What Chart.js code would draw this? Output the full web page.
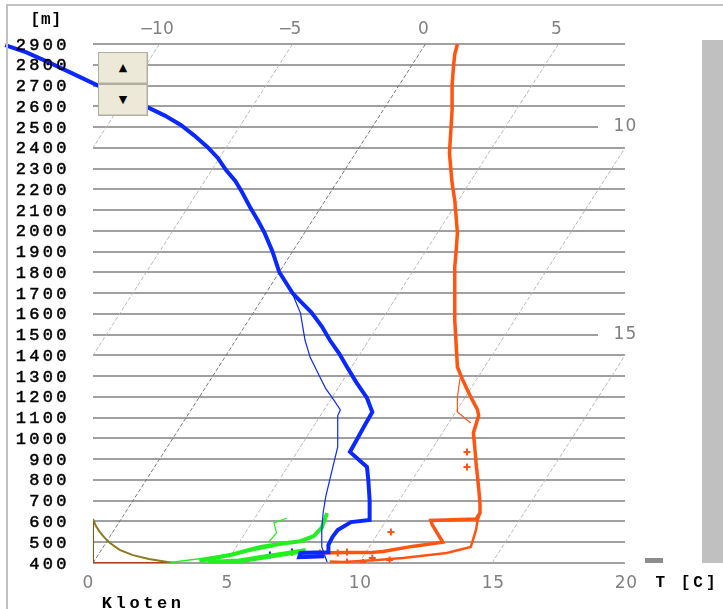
<!DOCTYPE html>
<html>
<head>
<meta charset="utf-8">
<script src="https://cdn.jsdelivr.net/npm/chart.js@4"></script>
<style>
  body { margin: 0; background: #fff; }
  #wrap { position: relative; width: 723px; height: 609px; overflow: hidden; }
  #c { position: absolute; left: 0; top: 0; }
  .frameTop { position: absolute; left: 7px; top: 4px; width: 716px; height: 2px; background: #c0c0c0; }
  .frameLeft { position: absolute; left: 6px; top: 4px; width: 2px; height: 605px; background: #c0c0c0; }
  .bar { position: absolute; left: 702px; top: 40px; width: 21px; height: 523px; background: #c0c0c0; }
  .mark { position: absolute; left: 645px; top: 558px; width: 18px; height: 5px; background: #8c8c8c; }
  .btns { position: absolute; left: 98px; top: 52px; width: 50px; height: 65px; }
  .btn { position: absolute; left: 0; width: 48px; height: 30px; background: #ece9d8;
         border: 1px solid #b0aea0; box-shadow: inset -1px -1px 0 #d0cdbf;
         font: 11px "DejaVu Sans", sans-serif; color: #000; text-align: center; line-height: 30px; }
</style>
</head>
<body>
<div id="wrap">
  <canvas id="c" width="723" height="609"></canvas>
  <div class="frameTop"></div>
  <div class="frameLeft"></div>
  <div class="bar"></div>
  <div class="mark"></div>
  <div class="btns">
    <div class="btn" style="top:0">▲</div>
    <div class="btn" style="top:32px">▼</div>
  </div>
</div>
<script>
// axes
const yTicks = [400, 500, 600, 700, 800, 900, 1000, 1100, 1200, 1300, 1400, 1500, 1600,
  1700, 1800, 1900, 2000, 2100, 2200, 2300, 2400, 2500, 2600, 2700, 2800, 2900];
const xTicks = [0, 5, 10, 15, 20];
const isotherms = [-10, -5, 0, 5, 10, 15, 20];
const topLabels = [-10, -5, 0, 5];
const sideLabels = [10, 15];
const skew = 0.005; // x shift per metre of height

// profiles (x = T, y = height m)
const blueThickT = [-3.3, -2.5, -1.6, -0.8, 0.15, 1.2, 2.1, 2.7, 3.3, 3.8, 4.3, 4.7, 5.0, 5.35, 5.6, 5.9, 6.2,
  6.45, 6.75, 7.0, 7.5, 7.8, 8.2, 8.6, 8.9, 9.25, 9.55, 9.9, 10.3, 10.5, 10.2, 9.9, 9.66, 10.3, 10.35,
  10.4, 10.4, 9.7, 9.2, 9.0, 8.85, 8.85, 8.3, 7.8, 7.75, 8.2, 8.7];
const blueThickH = [2895, 2860, 2808, 2760, 2702, 2645, 2592, 2555, 2510, 2460, 2404, 2350, 2293, 2240, 2187, 2115, 2050,
  1990, 1900, 1802, 1700, 1660, 1609, 1540, 1474, 1410, 1344, 1270, 1195, 1127, 1060, 990, 935, 862, 800,
  700, 607, 597, 559, 525, 487, 452, 450, 448, 428, 430, 432];

const blueThinT = [7.52, 7.65, 7.8, 7.97, 8.16, 8.53, 8.75, 9.0, 9.3, 9.2, 9.2, 9.05, 8.9, 8.75, 8.65, 8.6, 8.6, 8.8];
const blueThinH = [1691, 1650, 1604, 1474, 1392, 1296, 1240, 1195, 1137, 1110, 959, 880, 800, 720, 641, 560, 477, 405];

const orangeThickT = [13.7, 13.6, 13.55, 13.5, 13.5, 13.4, 13.45, 13.5, 13.6, 13.7, 13.65, 13.6, 13.6, 13.6, 13.7, 13.9,
  14.2, 14.45, 14.5, 14.3, 14.35, 14.4, 14.5, 14.55, 14.55, 14.4, 12.7, 12.75, 13.15, 12.0, 10.9, 10.4, 9.5, 8.5];
const orangeThickH = [2900, 2850, 2789, 2700, 2582, 2375, 2300, 2230, 2148, 1990, 1900, 1826, 1700, 1570, 1344, 1281,
  1200, 1140, 1110, 1026, 960, 882, 760, 680, 641, 612, 605, 585, 500, 480, 455, 450, 450, 448];

const orangeThinT = [13.8, 13.7, 13.7, 14.2];
const orangeThinH = [1290, 1200, 1127, 1074];
const orangeLowT = [14.55, 14.45, 14.4, 14.2, 13.3, 11.65, 10.7, 9.4, 8.9];
const orangeLowH = [641, 600, 559, 477, 448, 424, 414, 405, 407];
const orangeCrossT = [14.06, 14.06, 11.2, 8.53, 9.2, 9.55, 9.55, 10.15, 10.5, 11.15];
const orangeCrossH = [935, 862, 549, 448, 448, 453, 405, 402, 424, 414];
const blueCrossT = [6.65, 7.48];
const blueCrossH = [438, 453];

const greenUpT = [4.0, 5.2, 6.3, 7.2, 7.8, 8.3, 8.6, 8.8];
const greenUpH = [410, 440, 477, 495, 505, 530, 570, 640];
const greenLowT = [4.3, 5.5, 6.5, 7.5, 8.0];
const greenLowH = [403, 410, 430, 450, 460];
const greenThinT = [2.9, 4.0, 5.0, 6.0, 6.8];
const greenThinH = [403, 420, 440, 460, 480];
const greenHookT = [6.6, 6.9, 6.8, 7.3];
const greenHookH = [500, 545, 593, 617];

const oliveT = [0, 0.1, 0.26, 0.45, 0.64, 1.0, 1.5, 2.1, 2.8, 3.0];
const oliveH = [612, 580, 549, 520, 496, 463, 438, 419, 405, 402];
const brownT = [0, 0, 2.9];
const brownH = [607, 400, 400];

function pts(xs, ys) {
  return xs.map((x, i) => ({ x: x, y: ys[i] }));
}

function line(xs, ys, color, width, extra) {
  return Object.assign({
    data: pts(xs, ys),
    showLine: true,
    borderColor: color,
    backgroundColor: color,
    borderWidth: width,
    pointRadius: 0,
    tension: 0
  }, extra || {});
}

const datasets = [
  line(blueThickT, blueThickH, "#0a28ff", 4, { clip: false }),
  line(orangeThickT, orangeThickH, "#ff5511", 3.5),
  line(orangeLowT, orangeLowH, "#ff5511", 2.5),
  line(orangeThinT, orangeThinH, "#ff5511", 1.2),
  line(blueThinT, blueThinH, "#0a28ff", 1.2),
  line(greenUpT, greenUpH, "#22ee22", 4),
  line(greenLowT, greenLowH, "#22ee22", 5),
  line(greenThinT, greenThinH, "#22ee22", 1.5),
  line(greenHookT, greenHookH, "#22ee22", 1.2),
  line(oliveT, oliveH, "#8c7a1a", 2),
  line(brownT, brownH, "#a8401c", 2),
  {
    data: pts(orangeCrossT, orangeCrossH), showLine: false, pointStyle: "cross",
    pointRadius: 3.5, borderWidth: 2, borderColor: "#ff5511"
  },
  {
    data: pts(blueCrossT, blueCrossH), showLine: false, pointStyle: "cross",
    pointRadius: 3.5, borderWidth: 2, borderColor: "#0a28ff"
  }
];

// skewed isotherms
for (const t of isotherms) {
  datasets.push({
    data: [{ x: t, y: 400 }, { x: t + skew * 2500, y: 2900 }],
    showLine: true,
    borderColor: t === 0 ? "#7a7a7a" : "#b8b8b8",
    borderWidth: 1,
    borderDash: [4, 2],
    pointRadius: 0
  });
}

function spaced(ctx, text, x, y, pitch, align, stroke) {
  const w = pitch * text.length;
  let x0 = x;
  if (align === "right") x0 = x - w;
  if (align === "center") x0 = x - w / 2;
  ctx.textAlign = "center";
  for (let i = 0; i < text.length; i++) {
    ctx.fillText(text[i], x0 + pitch * i + pitch / 2, y);
    if (stroke) ctx.strokeText(text[i], x0 + pitch * i + pitch / 2, y);
  }
}

const textPlugin = {
  id: "texts",
  afterDraw(chart) {
    const ctx = chart.ctx;
    const xs = chart.scales.x, ys = chart.scales.y;
    ctx.save();
    ctx.textBaseline = "middle";

    // y tick labels
    ctx.fillStyle = "#000";
    ctx.strokeStyle = "#000";
    ctx.lineWidth = 0.5;
    ctx.font = "17px 'Liberation Mono', monospace";
    for (const h of yTicks) {
      spaced(ctx, String(h), 68, ys.getPixelForValue(h) + 1, 13.5, "right", true);
    }

    // x tick labels
    ctx.fillStyle = "#808080";
    ctx.font = "17px 'DejaVu Sans', sans-serif";
    for (const t of xTicks) {
      spaced(ctx, String(t), xs.getPixelForValue(t) + (t === 0 ? -5 : 1), 584, 11.5, "center");
    }

    // isotherm labels on top
    for (const t of topLabels) {
      const lbl = t < 0 ? "\u2212" + String(-t) : String(t);
      spaced(ctx, lbl, xs.getPixelForValue(t + skew * 2500) - 2, 30, 11, "center");
    }

    // isotherm labels on the right side
    for (const t of sideLabels) {
      const h = 400 + (20 - t) / skew + 100;
      const py = ys.getPixelForValue(h);
      ctx.fillStyle = "#fff";
      ctx.fillRect(xs.right - 27, py - 3, 30, 6);
      ctx.fillStyle = "#808080";
      spaced(ctx, String(t), xs.right - 12, py, 12, "left");
    }

    // black labels
    ctx.fillStyle = "#000";
    ctx.font = "bold 16px 'Liberation Mono', monospace";
    spaced(ctx, "[m]", 30, 20, 10.5, "left");
    spaced(ctx, "T [C]", 654, 583, 12.6, "left");
    ctx.font = "bold 17px 'Liberation Mono', monospace";
    spaced(ctx, "Kloten", 100, 604, 13.8, "left");
    ctx.restore();
  }
};

new Chart(document.getElementById("c"), {
  type: "scatter",
  data: { datasets: datasets },
  options: {
    responsive: false,
    animation: false,
    layout: { padding: { top: 44, right: 98, left: 0, bottom: 0 } },
    plugins: { legend: { display: false }, tooltip: { enabled: false } },
    scales: {
      x: {
        type: "linear", min: 0, max: 20,
        ticks: { display: false },
        grid: { display: false },
        border: { display: false },
        afterFit: function (s) { s.height = 46; }
      },
      y: {
        type: "linear", min: 400, max: 2900,
        ticks: { display: false, stepSize: 100 },
        grid: { color: "#a0a0a0", lineWidth: 2, drawTicks: false },
        border: { display: false },
        afterFit: function (s) { s.width = 93; }
      }
    }
  },
  plugins: [textPlugin]
});
</script>
</body>
</html>
